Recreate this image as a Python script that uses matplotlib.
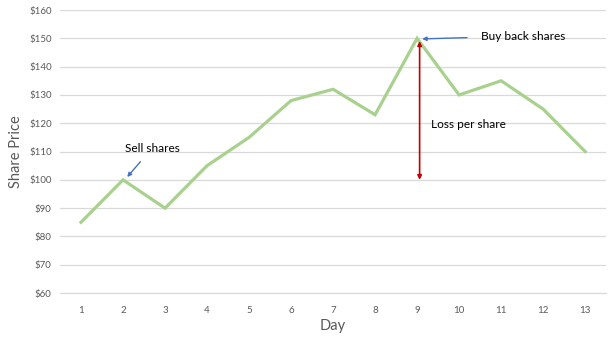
import matplotlib.pyplot as plt
import matplotlib.ticker as mticker

plt.rcParams['font.family'] = ['Lato', 'DejaVu Sans']

days = list(range(1, 14))
price = [85, 100, 90, 105, 115, 128, 132, 123, 150, 130, 135, 125, 110]

fig = plt.figure(figsize=(6.16, 3.46), dpi=100)
ax = fig.add_axes([0.0974, 0.153, 0.8866, 0.818])

ax.plot(days, price, color='#A9D18E', linewidth=2.3, solid_joinstyle='miter', zorder=3)

ax.set_xlim(0.5, 13.5)
ax.set_ylim(60, 160)
ax.set_xticks(days)
ax.set_yticks(range(60, 161, 10))
ax.yaxis.set_major_formatter(mticker.FuncFormatter(lambda v, p: '${:.0f}'.format(v)))
ax.grid(axis='y', color='#D9D9D9', linewidth=0.9)
ax.set_axisbelow(True)
for s in ax.spines.values():
    s.set_visible(False)
ax.spines['bottom'].set_visible(True)
ax.spines['bottom'].set_color('#D9D9D9')
ax.tick_params(length=0, colors='#595959', labelsize=7)
ax.tick_params(axis='x', pad=9)
ax.tick_params(axis='y', pad=6)

ax.set_xlabel('Day', color='#595959', fontsize=10.5, labelpad=3)
ax.set_ylabel('Share Price', color='#595959', fontsize=10.5, labelpad=4)

# annotations
ax.annotate('Sell shares', xy=(2.1, 101), xytext=(2.69, 111.2), ha='center', va='center',
            fontsize=8.6, color='black',
            arrowprops=dict(arrowstyle='-|>', color='#4472C4', lw=1, mutation_scale=6,
                            shrinkA=5, shrinkB=0))
ax.annotate('Buy back shares', xy=(9.12, 149.8), xytext=(10.52, 150.8), ha='left', va='center',
            fontsize=8.6, color='black',
            arrowprops=dict(arrowstyle='-|>', color='#4472C4', lw=1, mutation_scale=6,
                            shrinkA=8, shrinkB=0))
ax.annotate('', xy=(9.06, 149), xytext=(9.06, 100),
            arrowprops=dict(arrowstyle='<|-|>', color='#C00000', lw=1.2, mutation_scale=6,
                            shrinkA=0, shrinkB=0))
ax.text(9.33, 119.7, 'Loss per share', ha='left', va='center', fontsize=8.6, color='black')

fig.savefig('out.png', dpi=100)
